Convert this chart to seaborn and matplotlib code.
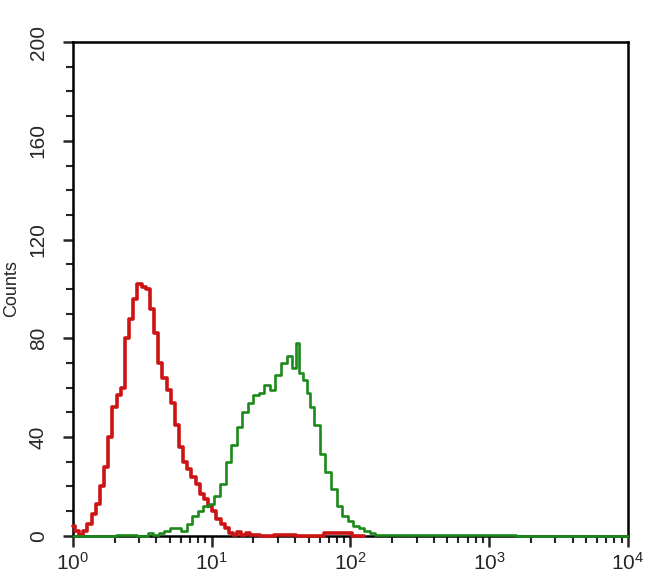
import numpy as np
import pandas as pd
import seaborn as sns
import matplotlib.pyplot as plt
from matplotlib.ticker import LogLocator, MultipleLocator

# log10 channel positions and counts
red_logx = [0.00, 0.03, 0.06, 0.09, 0.12, 0.15, 0.18, 0.21, 0.24, 0.27, 0.30,
            0.33, 0.36, 0.39, 0.42, 0.45, 0.48, 0.51, 0.54, 0.57, 0.60, 0.63,
            0.66, 0.69, 0.72, 0.75, 0.78, 0.81, 0.84, 0.87, 0.90, 0.93, 0.96,
            0.99, 1.02, 1.05, 1.08, 1.11, 1.14, 1.17, 1.20, 1.23, 1.26, 1.29,
            1.40, 1.50, 1.70, 1.90, 2.10]
red_counts = [4, 2, 0.5, 2, 5, 9, 13, 20, 28, 40, 52,
              57, 60, 80, 88, 96, 102, 101, 100, 92, 82, 70,
              64, 59, 54, 45, 36, 30, 27, 24, 21, 17, 15,
              12, 10, 7, 5, 3, 1, 0.5, 1.5, 0.5, 1, 0.5,
              0, 0.5, 0, 1, 0]

green_logx = [0.00, 0.20, 0.40, 0.52, 0.56, 0.60, 0.64, 0.68, 0.72, 0.76, 0.80,
              0.84, 0.88, 0.92, 0.96, 1.00, 1.04, 1.08, 1.12, 1.16, 1.20, 1.24,
              1.28, 1.32, 1.36, 1.40, 1.44, 1.48, 1.52, 1.56, 1.60, 1.62, 1.64,
              1.68, 1.70, 1.72, 1.76, 1.80, 1.84, 1.88, 1.92, 1.96, 2.00, 2.04,
              2.08, 2.12, 2.16, 2.20, 2.40, 2.80, 3.40, 4.00]
green_counts = [0, 0, 0.5, 0, 1, 0.5, 1, 2, 3, 3, 2,
                5, 8, 10, 12, 13, 16, 21, 30, 37, 44, 50,
                54, 57, 58, 61, 59, 65, 70, 73, 68, 78, 66,
                63, 58, 52, 45, 33, 26, 19, 12, 8, 6, 4,
                3, 2, 1, 0.5, 0.5, 0.5, 0, 0]

df = pd.concat([
    pd.DataFrame({'x': 10 ** np.array(red_logx), 'y': red_counts, 's': 'red'}),
    pd.DataFrame({'x': 10 ** np.array(green_logx), 'y': green_counts, 's': 'green'}),
])

sns.set_style('ticks')
plt.rcParams['font.family'] = ['Liberation Sans', 'DejaVu Sans']
plt.rcParams['mathtext.fontset'] = 'custom'
plt.rcParams['mathtext.rm'] = 'Liberation Sans'

fig = plt.figure(figsize=(6.5, 5.85), dpi=100)
ax = fig.add_axes([0.112, 0.084, 0.854, 0.844])

sns.lineplot(data=df[df.s == 'red'], x='x', y='y', color='#cc1414', lw=2.6,
             drawstyle='steps-mid', estimator=None, ax=ax, zorder=3, clip_on=False)
sns.lineplot(data=df[df.s == 'green'], x='x', y='y', color='#1b8a1b', lw=1.9,
             drawstyle='steps-mid', estimator=None, ax=ax, zorder=3, clip_on=False)

ax.set_xscale('log')
ax.set_xlim(1, 1e4)
ax.set_ylim(0, 200)
ax.xaxis.set_major_locator(LogLocator(base=10, numticks=10))
ax.xaxis.set_minor_locator(LogLocator(base=10, subs=np.arange(2, 10), numticks=20))
ax.yaxis.set_major_locator(MultipleLocator(40))
ax.yaxis.set_minor_locator(MultipleLocator(10))

for s in ax.spines.values():
    s.set_linewidth(1.8)
    s.set_color('black')
ax.tick_params(which='major', length=8, width=1.8, labelsize=15, direction='out')
ax.tick_params(axis='y', which='major', length=7, pad=11)
ax.tick_params(which='minor', length=5, width=1.5, direction='out')
for lab in ax.get_yticklabels():
    lab.set_rotation(90)
    lab.set_va('center')

ax.set_xlabel('')
ax.set_ylabel('Counts', fontsize=13, labelpad=6)

fig.savefig('out.png', dpi=100)
